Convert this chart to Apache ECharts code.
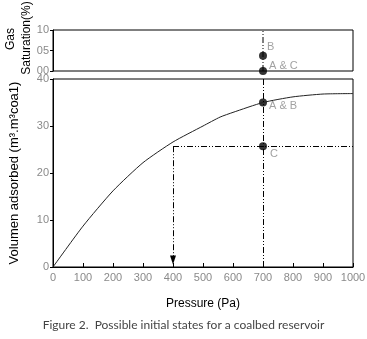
<!DOCTYPE html>
<html>
<head>
<meta charset="utf-8">
<script src="https://cdn.jsdelivr.net/npm/echarts@6/dist/echarts.min.js"></script>
<style>
  html, body { margin: 0; padding: 0; background: #fff; }
  #chart { width: 367px; height: 339px; }
</style>
</head>
<body>
<div id="chart"></div>
<script>
// isotherm: pressure (Pa) vs volume adsorbed
const pressure = [0, 100, 200, 300, 400, 500, 557, 600, 700, 800, 900, 1000];
const volume = [0, 8.7, 16.2, 22.2, 26.6, 30.0, 31.9, 32.9, 35.0, 36.2, 36.8, 36.9];

// states on the lower plot
const statePointsLower = [[700, 35, 'A & B'], [700, 25.7, 'C']];
// states on the saturation plot
const statePointsUpper = [[700, 3.7, 'B'], [700, 0, 'A & C']];

const satTicks = ['00', '05', '10'];
const satTitle = ['Gas', 'Saturation(%)'];
const figCaption = 'Figure 2.  Possible initial states for a coalbed reservoir';

const gray = '#8a8a8a';
const dashDot = [6, 2, 1, 2, 1, 2];
const font = 'Liberation Sans, Arial, sans-serif';

// label offsets next to each dot
const labelOffset = { 'A & B': [10, 2], 'C': [11, 6], 'B': [8, -10], 'A & C': [10, -7] };

const chart = echarts.init(document.getElementById('chart'));

function pointData(list) {
  return list.map(d => ({
    value: [d[0], d[1]], name: d[2],
    label: { show: true, formatter: d[2], position: labelOffset[d[2]], color: gray, fontSize: 11, fontFamily: font }
  }));
}

chart.setOption({
  animation: false,
  grid: [
    { left: 53, top: 30, width: 300, height: 41, show: true, borderColor: '#000', borderWidth: 1, outerBoundsMode: 'none' },
    { left: 53, top: 79, width: 300, height: 188, show: true, borderColor: '#000', borderWidth: 1, outerBoundsMode: 'none' }
  ],
  xAxis: [
    { gridIndex: 0, type: 'value', min: 0, max: 1000, show: false },
    {
      gridIndex: 1, type: 'value', min: 0, max: 1000, interval: 100,
      name: 'Pressure (Pa)', nameLocation: 'middle', nameGap: 31,
      nameTextStyle: { color: '#000', fontSize: 12, fontFamily: font },
      axisLine: { lineStyle: { color: '#000', width: 1 } },
      axisTick: { inside: true, length: 4, lineStyle: { color: '#000' } },
      axisLabel: { color: gray, fontSize: 11, fontFamily: font, margin: 5, formatter: v => String(v) },
      splitLine: { show: false }
    }
  ],
  yAxis: [
    {
      gridIndex: 0, type: 'value', min: 0, max: 10, interval: 5,
      axisLine: { lineStyle: { color: '#000', width: 1 } },
      axisTick: { length: 3, lineStyle: { color: '#000' } },
      axisLabel: { color: gray, fontSize: 11, fontFamily: font, margin: 4,
        formatter: v => satTicks[v / 5] },
      splitLine: { show: false }
    },
    {
      gridIndex: 1, type: 'value', min: 0, max: 40, interval: 10,
      name: 'Volumen adsorbed (m³.m³coa1)', nameLocation: 'middle', nameRotate: 90, nameGap: 32,
      nameTextStyle: { color: '#000', fontSize: 13, fontFamily: font },
      axisLine: { lineStyle: { color: '#000', width: 1 } },
      axisTick: { length: 3, lineStyle: { color: '#000' } },
      axisLabel: { color: gray, fontSize: 11, fontFamily: font, margin: 4 },
      splitLine: { show: false }
    }
  ],
  graphic: [
    {
      type: 'text', x: 11, y: 39, rotation: Math.PI / 2,
      style: { text: satTitle[0], fill: '#000', fontSize: 12, fontFamily: font, align: 'center', verticalAlign: 'middle' }
    },
    {
      type: 'text', x: 27, y: 38, rotation: Math.PI / 2,
      style: { text: satTitle[1], fill: '#000', fontSize: 12, fontFamily: font, align: 'center', verticalAlign: 'middle' }
    },
    {
      type: 'text', left: 'center', top: 319,
      style: { text: figCaption, fill: '#444', fontSize: 12, fontFamily: 'Lato, sans-serif' }
    }
  ],
  series: [
    {
      type: 'line', xAxisIndex: 1, yAxisIndex: 1,
      data: pressure.map((p, i) => [p, volume[i]]),
      smooth: 0.2, showSymbol: false,
      lineStyle: { color: '#222', width: 1 },
      markLine: {
        silent: true, symbol: ['none', 'none'], label: { show: false },
        lineStyle: { color: '#000', width: 1, type: dashDot },
        data: [
          [{ coord: [700, 0] }, { coord: [700, 40] }],
          [{ coord: [400, 25.7] }, { coord: [1000, 25.7] }],
          [{ coord: [400, 25.7], symbol: 'none' }, { coord: [400, 1.5], symbol: 'triangle', symbolSize: [6, 9], symbolRotate: 180 }]
        ]
      }
    },
    {
      type: 'line', xAxisIndex: 0, yAxisIndex: 0,
      data: [[700, 0], [700, 10]], showSymbol: false,
      lineStyle: { color: '#000', width: 1, type: dashDot }
    },
    {
      type: 'scatter', xAxisIndex: 1, yAxisIndex: 1, symbolSize: 8,
      itemStyle: { color: '#000' },
      data: pointData(statePointsLower)
    },
    {
      type: 'scatter', xAxisIndex: 0, yAxisIndex: 0, symbolSize: 8,
      itemStyle: { color: '#000' },
      data: pointData(statePointsUpper)
    }
  ]
});
</script>
</body>
</html>
